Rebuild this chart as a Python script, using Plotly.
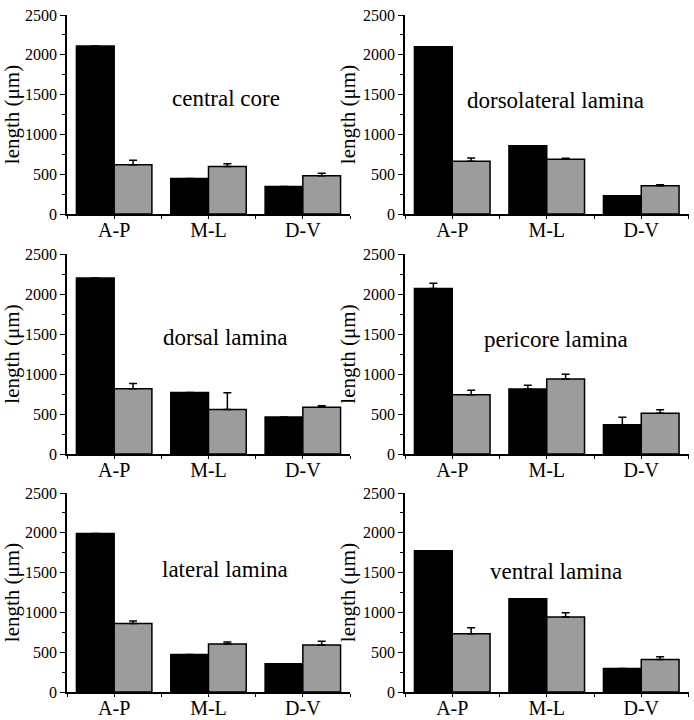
import plotly.graph_objects as go

categories = ["A-P", "M-L", "D-V"]
panel_titles = ["central core", "dorsolateral lamina", "dorsal lamina",
                "pericore lamina", "lateral lamina", "ventral lamina"]

black_values = [
    [2110, 447, 346],
    [2100, 857, 228],
    [2200, 768, 464],
    [2068, 812, 367],
    [1990, 471, 354],
    [1773, 1171, 295],
]
black_errors = [
    [0, 0, 0],
    [0, 0, 0],
    [0, 0, 0],
    [66, 46, 91],
    [0, 0, 0],
    [0, 0, 0],
]
gray_values = [
    [618, 597, 480],
    [662, 687, 356],
    [815, 556, 585],
    [742, 937, 508],
    [862, 602, 589],
    [731, 943, 407],
]
gray_errors = [
    [58, 33, 33],
    [42, 12, 10],
    [67, 209, 17],
    [54, 59, 46],
    [29, 25, 50],
    [75, 54, 37],
]
label_pos = [
    (1.19, 1457), (1.09, 1430), (1.18, 1457),
    (1.10, 1430), (1.18, 1540), (1.10, 1517),
]

W, H = 694, 720
col_dom = [[67 / W, 350 / W], [405 / W, 688.5 / W]]
row_px = [(15, 214), (254, 454), (493, 692)]
row_dom = [[1 - b / H, 1 - t / H] for (t, b) in row_px]

FONT = "Liberation Serif"
fig = go.Figure()
xs = list(range(len(categories)))

for i in range(6):
    r, c = divmod(i, 2)
    n = "" if i == 0 else str(i + 1)
    xa, ya = "x" + n, "y" + n
    fig.add_trace(go.Bar(
        x=xs, y=black_values[i], xaxis=xa, yaxis=ya,
        marker=dict(color="#000000", line=dict(color="#000000", width=1.5)),
        error_y=dict(type="data", array=black_errors[i], arrayminus=[0] * 3,
                     symmetric=False, color="#000000", thickness=1.5, width=4),
        showlegend=False,
    ))
    fig.add_trace(go.Bar(
        x=xs, y=gray_values[i], xaxis=xa, yaxis=ya,
        marker=dict(color="#9c9c9c", line=dict(color="#000000", width=1.5)),
        error_y=dict(type="data", array=gray_errors[i], arrayminus=[0] * 3,
                     symmetric=False, color="#000000", thickness=1.5, width=4),
        showlegend=False,
    ))
    fig.layout["xaxis" + n] = dict(
        domain=col_dom[c], anchor=ya, range=[-0.5, 2.5], automargin=False,
        tickvals=xs, ticktext=categories, ticklabelstandoff=-6,
        ticks="outside", ticklen=3, tickwidth=1, tickcolor="#000",
        minor=dict(tick0=0.5, dtick=1, ticks="outside", ticklen=3, tickcolor="#000"),
        showline=True, linecolor="#000", linewidth=1.5,
        showgrid=False, zeroline=False,
        tickfont=dict(family=FONT, size=20, color="#000"),
        fixedrange=True,
    )
    fig.layout["yaxis" + n] = dict(
        domain=row_dom[r], anchor=xa, range=[0, 2500], automargin=False,
        tickvals=[0, 500, 1000, 1500, 2000, 2500],
        ticks="outside", ticklen=5, tickwidth=1.2, tickcolor="#000",
        minor=dict(tick0=250, dtick=500, ticks="outside", ticklen=3, tickcolor="#000"),
        showline=True, linecolor="#000", linewidth=1.5,
        showgrid=False, zeroline=False,
        tickfont=dict(family=FONT, size=16, color="#000"),
        title=dict(text="length (μm)", font=dict(family=FONT, size=21, color="#000"),
                   standoff=2),
        fixedrange=True,
    )
    fig.add_annotation(
        x=label_pos[i][0], y=label_pos[i][1], xref=xa, yref=ya,
        text=panel_titles[i], showarrow=False,
        font=dict(family=FONT, size=23, color="#000"),
    )

fig.update_layout(
    width=W, height=H, margin=dict(l=0, r=0, t=0, b=0),
    paper_bgcolor="#fff", plot_bgcolor="#fff",
    barmode="group", bargap=0.2, bargroupgap=0,
    font=dict(family=FONT, color="#000"),
)
fig.write_html(
    "out.html",
    config={"displayModeBar": False},
    post_script="document.body.style.margin='0';document.body.style.overflow='hidden';",
)
